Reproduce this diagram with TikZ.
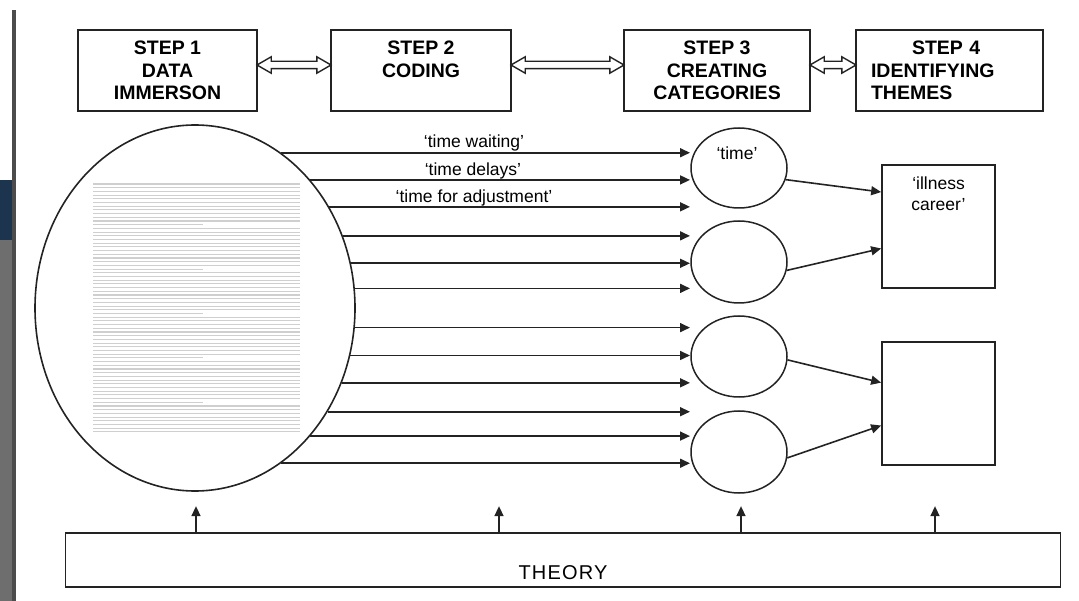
\documentclass[tikz,border=0pt]{standalone}
\usepackage{fontspec}
\setmainfont{Liberation Sans}
\usepackage{tikz}
\usetikzlibrary{shapes.geometric, shapes.arrows, arrows.meta}

\definecolor{inkgray}{RGB}{35,35,35}
\definecolor{panelgray}{RGB}{110,110,110}
\definecolor{panelnavy}{RGB}{28,52,78}

\begin{document}
\begin{tikzpicture}[x=1pt, y=-1pt,
    stepbox/.style={draw=inkgray, line width=1.8pt, minimum width=180pt, minimum height=81pt, inner sep=0pt, align=center, font=\bfseries\fontsize{19.5}{22.5}\selectfont},
    link-arrow/.style={double arrow, draw=inkgray, line width=1.4pt, fill=white, inner sep=3pt, double arrow head extend=4.5pt, double arrow tip angle=60},
    cat-node/.style={ellipse, draw=inkgray, line width=1.5pt, minimum width=96pt, minimum height=81pt, inner sep=0pt},
    theme-box/.style={draw=inkgray, line width=1.7pt, minimum width=113pt, minimum height=123pt, inner sep=0pt},
    flow/.style={draw=inkgray, line width=1.6pt, -{Triangle[length=10pt, width=9pt]}},
    code-lbl/.style={font=\fontsize{17.5}{21}\selectfont, inner sep=0pt, anchor=base}
]
    \useasboundingbox (0,0) rectangle (1079,601);

    % screen edge
    \fill[panelgray] (0,180) rectangle (12,601);
    \fill[panelnavy] (0,180) rectangle (12,240);
    \fill[black!70] (12,10) rectangle (16,601);

    % steps
    \node[stepbox, minimum width=179pt] (s1) at (167.5,70.5) {STEP 1\\DATA\\IMMERSON};
    \node[stepbox] (s2) at (421,70.5) {STEP 2\\CODING\\~};
    \node[stepbox, minimum width=186pt] (s3) at (717,70.5) {STEP 3\\CREATING\\CATEGORIES};
    \node[stepbox, minimum width=187pt, text width=157pt, align=left] (s4) at (949.5,70.5) {\hspace*{41pt}STEP 4\\IDENTIFYING\\THEMES};

    \node[link-arrow, minimum height=74pt] (a12) at (294,65) {};
    \node[link-arrow, minimum height=113pt] (a23) at (567.5,65) {};
    \node[link-arrow, minimum height=46pt] (a34) at (833,65) {};

    % data
    \node[ellipse, draw=inkgray, line width=1.6pt, minimum width=320pt, minimum height=366pt, inner sep=0pt] (src) at (195,308) {};
    \foreach \i in {0,...,67}
        \draw[gray!38, line width=1.1pt] (93,{184+3.7*\i}) -- ++({mod(\i,12)==11 ? 110 : 207},0);

    % codes
    \coordinate (arrowend) at (690,0);
    \foreach \y in {153,180,207,234,261,288,330,356,384,412,437,464} {
        \pgfmathsetmacro\ang{atan2(308-\y, 160*sqrt(1-((\y-308)/183)^2))}
        \draw[flow] (src.\ang) -- (src.\ang -| arrowend);
    }
    \node[code-lbl] (w1) at (474,148) {‘time waiting’};
    \node[code-lbl] (w2) at (473,176) {‘time delays’};
    \node[code-lbl] (w3) at (474,203) {‘time for adjustment’};

    % categories
    \node[cat-node, minimum height=80pt] (c1) at (739,168) {};
    \node[cat-node, minimum height=82pt] (c2) at (739,262) {};
    \node[cat-node] (c3) at (739,356.5) {};
    \node[cat-node, minimum height=82pt] (c4) at (739,452) {};
    \node[code-lbl] (c1lbl) at (737,160) {‘time’};

    % themes
    \node[theme-box] (th1) at (938.5,226.5) {};
    \node[theme-box] (th2) at (938.5,403.5) {};
    \node[code-lbl, anchor=north, align=center] (th1lbl) at (938.5,177) {‘illness\\career’};

    \draw[flow] (c1.-14) -- (th1.149);
    \draw[flow] (c2.-10) -- (th1.201);
    \draw[flow] (c3.-4) -- (th2.160);
    \draw[flow] (c4.-7) -- (th2.201);

    % theory
    \node[draw=inkgray, line width=1.7pt, minimum width=995pt, minimum height=54pt, inner sep=0pt, text height=38pt, text depth=0pt, font=\fontsize{20}{22}\selectfont\addfontfeature{LetterSpace=6}] (theory) at (563,560) {THEORY};
    \foreach \x in {196,499,741,935}
        \draw[flow] (theory.north -| \x,0) -- ++(0,-26);

\end{tikzpicture}
\end{document}
